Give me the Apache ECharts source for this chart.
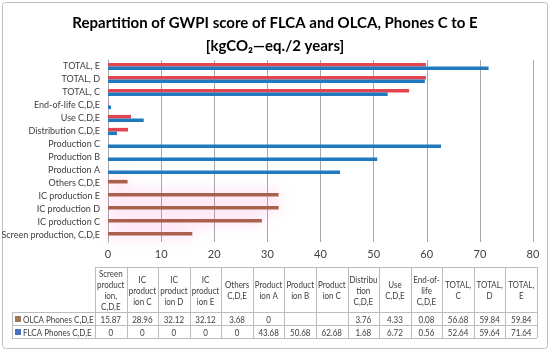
<!DOCTYPE html>
<html>
<head>
<meta charset="utf-8">
<script src="https://cdn.jsdelivr.net/npm/echarts@6/dist/echarts.min.js"></script>
<style>html,body{margin:0;padding:0;background:#fff;}#c{width:550px;height:352px;}</style>
</head>
<body>
<div id="c"></div>
<script>
// ---- data ----
const categories = ['Screen production, C,D,E','IC production C','IC production D','IC production E','Others C,D,E','Production A','Production B','Production C','Distribution C,D,E','Use C,D,E','End-of-life C,D,E','TOTAL, C','TOTAL, D','TOTAL, E'];
const tableHeaders = ['Screen\nproduct\nion,\nC,D,E','IC\nproduct\nion C','IC\nproduct\nion D','IC\nproduct\nion E','Others\nC,D,E','Product\nion A','Product\nion B','Product\nion C','Distribu\ntion\nC,D,E','Use\nC,D,E','End-of-\nlife\nC,D,E','TOTAL,\nC','TOTAL,\nD','TOTAL,\nE'];
const olcaName = 'OLCA Phones C,D,E';
const flcaName = 'FLCA Phones C,D,E';
const olcaValues = [15.87, 28.96, 32.12, 32.12, 3.68, 0, null, null, 3.76, 4.33, 0.08, 56.68, 59.84, 59.84];
const flcaValues = [0, 0, 0, 0, 0, 43.68, 50.68, 62.68, 1.68, 6.72, 0.56, 52.64, 59.64, 71.64];
const xTicks = {min: 0, max: 80, interval: 10};

// ---- styling ----
const FONT = 'Lato, "Open Sans", sans-serif';
const RED = '#E2454F', BLUE = '#2179BD', BROWN = '#A8624C';
const LEG_BROWN = '#9B7A57', LEG_BLUE = '#4A6FC2';
const brownCount = 5;
const SX = 0.8;

const chart = echarts.init(document.getElementById('c'));

// table
const tX0 = 95, tX1 = 537, labX = 12, hY0 = 267, hY1 = 312, r1 = 325, r2 = 338;
const colW = (tX1 - tX0) / categories.length;
const g = [];
const line = (x1, y1, x2, y2) => g.push({type: 'line', shape: {x1, y1, x2, y2}, style: {stroke: '#BDBDBD', lineWidth: 1}, silent: true});
line(tX0, hY0 + 0.5, tX1, hY0 + 0.5);
line(labX, hY1 + 0.5, tX1, hY1 + 0.5);
line(labX, r1 + 0.5, tX1, r1 + 0.5);
line(labX, r2 + 0.5, tX1, r2 + 0.5);
line(labX + 0.5, hY1, labX + 0.5, r2);
for (let i = 0; i <= categories.length; i++) {
  const x = Math.round(tX0 + i * colW) + 0.5;
  line(x, hY0, x, r2);
}
const fmt = v => v === null ? '' : String(v);
const txt = (x, y, text, align) => g.push({type: 'text', x, y, scaleX: SX, style: {text, fill: '#404040', font: '10px ' + FONT, align: align || 'center', verticalAlign: 'middle', lineHeight: 11}, silent: true});
for (let i = 0; i < categories.length; i++) {
  const cx = tX0 + (i + 0.5) * colW;
  txt(cx, (hY0 + hY1) / 2 + 1, tableHeaders[i]);
  txt(cx, (hY1 + r1) / 2 + 1, fmt(olcaValues[i]));
  txt(cx, (r1 + r2) / 2 + 1, fmt(flcaValues[i]));
}
g.push({type: 'rect', shape: {x: 15, y: (hY1 + r1) / 2 - 2.5, width: 6, height: 6}, style: {fill: LEG_BROWN}, silent: true});
g.push({type: 'rect', shape: {x: 15, y: (r1 + r2) / 2 - 2.5, width: 6, height: 6}, style: {fill: LEG_BLUE}, silent: true});
txt(23, (hY1 + r1) / 2 + 1, olcaName, 'left');
txt(23, (r1 + r2) / 2 + 1, flcaName, 'left');
g.push({type: 'rect', shape: {x: 2.5, y: 2.5, width: 545, height: 346, r: 3}, style: {fill: 'none', stroke: '#BFBFBF', lineWidth: 1}, silent: true, z: -1});

chart.setOption({
  animation: false,
  backgroundColor: '#fff',
  title: {
    text: 'Repartition of GWPI score of FLCA and OLCA, Phones C to E\n[kgCO₂—eq./2 years]',
    left: 'center', top: 7,
    textStyle: {fontFamily: FONT, fontWeight: 'bold', fontSize: 15, color: '#000', lineHeight: 23}
  },
  grid: {left: 108, right: 17, top: 60, bottom: 110, containLabel: false, outerBoundsMode: 'none'},
  xAxis: {
    type: 'value', min: xTicks.min, max: xTicks.max, interval: xTicks.interval,
    axisLine: {show: false}, axisTick: {show: false},
    axisLabel: {fontFamily: FONT, fontSize: 11, color: '#404040', margin: 7},
    splitLine: {lineStyle: {color: '#A8A8A8', width: 1}}
  },
  yAxis: {
    type: 'category', data: categories,
    axisLine: {show: true, lineStyle: {color: '#A8A8A8'}}, axisTick: {show: false},
    axisLabel: {fontFamily: FONT, fontSize: 9, color: '#404040', margin: 8, interval: 0}
  },
  series: [
    {name: olcaName, type: 'bar', barWidth: 3.6, barGap: '0%',
     data: olcaValues.map((v, i) => ({value: v, itemStyle: i < brownCount
       ? {color: BROWN, shadowColor: 'rgba(255,110,210,0.5)', shadowBlur: 14}
       : {color: RED}}))},
    {name: flcaName, type: 'bar', barWidth: 3.6, barGap: '0%',
     data: flcaValues, itemStyle: {color: BLUE}}
  ],
  graphic: g
});
</script>
</body>
</html>
